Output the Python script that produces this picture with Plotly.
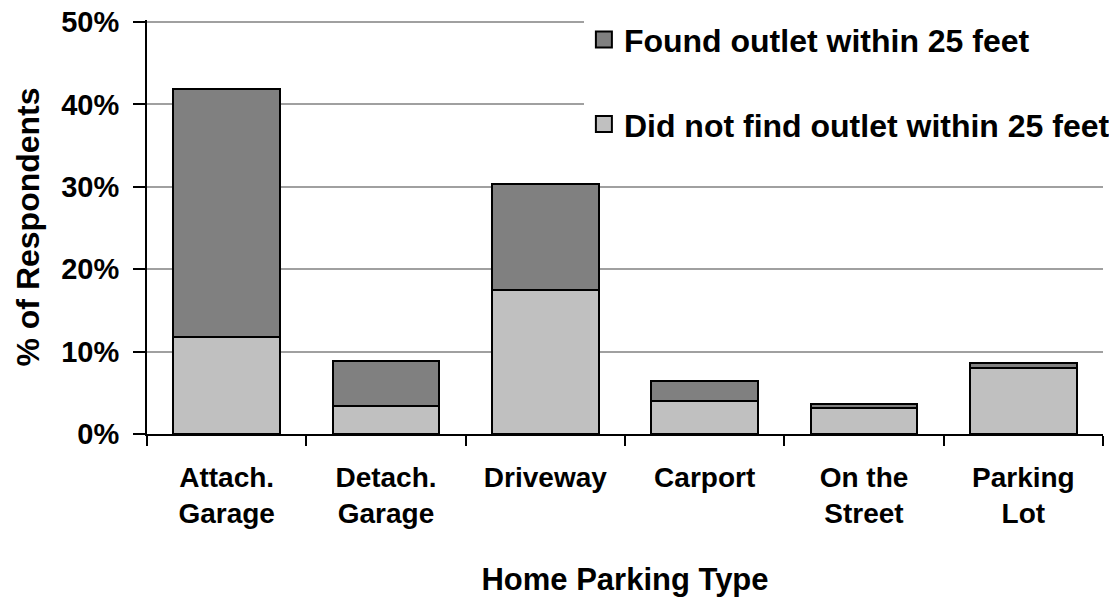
import plotly.graph_objects as go

categories = ["Attach.<br>Garage", "Detach.<br>Garage", "Driveway", "Carport", "On the<br>Street", "Parking<br>Lot"]
did_not_find = [11.8, 3.4, 17.5, 4.0, 3.2, 8.0]
found = [30.1, 5.5, 12.9, 2.4, 0.5, 0.6]
y_ticks = [0, 10, 20, 30, 40, 50]
y_tick_labels = ["0%", "10%", "20%", "30%", "40%", "50%"]

FONT = "Liberation Sans, Arial, sans-serif"
LIGHT = "#C0C0C0"
DARK = "#808080"

fig = go.Figure()
fig.add_trace(go.Bar(
    x=categories, y=did_not_find, name="Did not find outlet within 25 feet",
    marker=dict(color=LIGHT, line=dict(color="black", width=2)),
    showlegend=False,
))
fig.add_trace(go.Bar(
    x=categories, y=found, name="Found outlet within 25 feet",
    marker=dict(color=DARK, line=dict(color="black", width=2)),
    showlegend=False,
))
# legend entries (larger square swatches like the original)
fig.add_trace(go.Scatter(
    x=[None], y=[None], mode="markers", name="Found outlet within 25 feet",
    marker=dict(symbol="square", size=18, color=DARK, line=dict(color="black", width=2)),
    legendgroup="a", legendrank=1, hoverinfo="skip",
))
fig.add_trace(go.Scatter(
    x=[None], y=[None], mode="markers", name="Did not find outlet within 25 feet",
    marker=dict(symbol="square", size=18, color=LIGHT, line=dict(color="black", width=2)),
    legendgroup="b", legendrank=2, hoverinfo="skip",
))

fig.update_layout(
    width=1117, height=598,
    barmode="stack", bargap=0.33,
    plot_bgcolor="white", paper_bgcolor="white",
    margin=dict(l=139, r=22, t=12, b=172, autoexpand=False),
    showlegend=True,
    legend=dict(
        x=0.457, xanchor="left", y=1.019, yanchor="top",
        bgcolor="white", traceorder="grouped", tracegroupgap=40,
        font=dict(family=FONT, size=32, color="black", weight="bold"),
        itemsizing="trace", itemwidth=30,
    ),
    xaxis=dict(
        showline=True, linecolor="black", linewidth=2,
        ticks="outside", tickson="boundaries", ticklen=10, tickwidth=2, tickcolor="black",
        ticklabelstandoff=17, ticklabeloverflow="allow",
        tickfont=dict(family=FONT, size=28, color="black", weight="bold"),
        title=dict(text="Home Parking Type", standoff=40,
                   font=dict(family=FONT, size=31, color="black", weight="bold")),
        automargin=False,
    ),
    yaxis=dict(
        range=[0, 50.25], tickvals=y_ticks, ticktext=y_tick_labels,
        showline=True, linecolor="black", linewidth=2,
        ticks="outside", ticklen=12, tickwidth=2, tickcolor="black",
        ticklabelstandoff=8, ticklabeloverflow="allow",
        showgrid=True, gridcolor="#A0A0A0", gridwidth=2,
        zeroline=False,
        tickfont=dict(family=FONT, size=29, color="black", weight="bold"),
        title=dict(text="% of Respondents", standoff=12,
                   font=dict(family=FONT, size=32, color="black", weight="bold")),
        automargin=False,
    ),
)

fig.write_html("out.html")
